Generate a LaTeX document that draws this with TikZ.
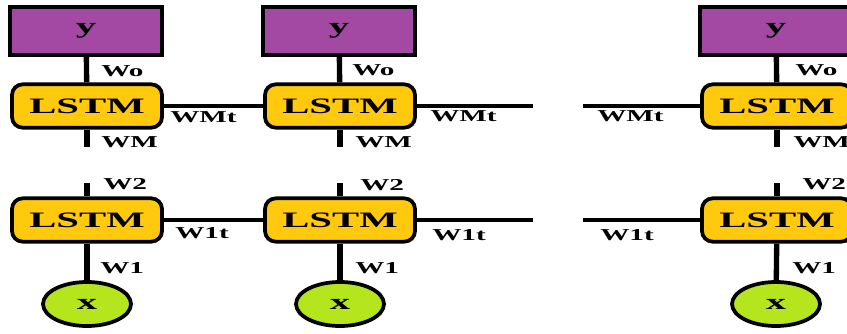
\documentclass[tikz,border=0pt]{standalone}
\usepackage{fontspec}
\usepackage{tikz}
\usetikzlibrary{shapes.geometric}
\setmainfont{Liberation Serif}
\newfontfamily\lblfont[FakeStretch=1.75]{Liberation Serif}
\newfontfamily\boxfont[FakeStretch=1.85]{Liberation Serif}
\definecolor{outpurple}{RGB}{163,73,164}
\definecolor{cellgold}{RGB}{255,201,14}
\definecolor{inlime}{RGB}{181,230,29}

\begin{document}
\begin{tikzpicture}[x=0.75pt,y=0.75pt,yscale=-1,xscale=1,
	outbox/.style={draw,line width=2.8pt,fill=outpurple,minimum width=114pt,minimum height=36pt,inner sep=0pt,font=\boxfont\bfseries\fontsize{16.5}{16.5}\selectfont},
	cellbox/.style={draw,line width=2.8pt,fill=cellgold,rounded corners=8pt,minimum width=112.5pt,minimum height=32.5pt,inner sep=0pt,font=\boxfont\bfseries\fontsize{16.5}{16.5}\selectfont},
	inblob/.style={draw,ellipse,line width=2.8pt,fill=inlime,minimum width=66pt,minimum height=33pt,inner sep=0pt,font=\boxfont\bfseries\fontsize{16.5}{16.5}\selectfont},
	lbl/.style={anchor=west,inner sep=0pt,font=\lblfont\bfseries\fontsize{12.5}{12.5}\selectfont},
	vwire/.style={line width=4pt},
	hwire/.style={line width=2.6pt}]
	\useasboundingbox (0,0) rectangle (847,333);
	\clip (0,0) rectangle (847,333);
	
	%Shape: Rectangle [outputs]
	\node [outbox] (y1) at (86,31) {y};
	\node [outbox] (y2) at (339,31) {y};
	\node [outbox] (y3) at (776,31) {y};
	%Shape: Rounded Rect [upper cells]
	\node [cellbox] (m1) at (87,106) {LSTM};
	\node [cellbox] (m2) at (340,106) {LSTM};
	\node [cellbox] (m3) at (777,106) {LSTM};
	%Shape: Rounded Rect [lower cells]
	\node [cellbox] (h1) at (87,220) {LSTM};
	\node [cellbox] (h2) at (340,220) {LSTM};
	\node [cellbox] (h3) at (777,220) {LSTM};
	%Shape: Ellipse [inputs]
	\node [inblob] (x1) at (87,304) {x};
	\node [inblob] (x2) at (340,304) {x};
	\node [inblob] (x3) at (776,304) {x};
	
	% free ends
	\coordinate (wm1) at (87,147);
	\coordinate (wm2) at (340,147);
	\coordinate (wm3) at (777,147);
	\coordinate (w21) at (87,183);
	\coordinate (w22) at (340,183);
	\coordinate (w23) at (777,183);
	\coordinate (mr) at (533,106);
	\coordinate (ml) at (583,106);
	\coordinate (hr) at (533,220);
	\coordinate (hl) at (583,220);
	
	%Straight Lines [vertical]
	\draw [vwire] (y1) -- (m1);
	\draw [vwire] (y2) -- (m2);
	\draw [vwire] (y3) -- (m3);
	\draw [vwire] (m1) -- (wm1);
	\draw [vwire] (m2) -- (wm2);
	\draw [vwire] (m3) -- (wm3);
	\draw [vwire] (w21) -- (h1);
	\draw [vwire] (w22) -- (h2);
	\draw [vwire] (w23) -- (h3);
	\draw [vwire] (h1) -- (x1);
	\draw [vwire] (h2) -- (x2);
	\draw [vwire] (h3) -- (x3);
	%Straight Lines [horizontal]
	\draw [hwire] (m1) -- (m2);
	\draw [hwire] (m2) -- (mr);
	\draw [hwire] (ml) -- (m3);
	\draw [hwire] (h1) -- (h2);
	\draw [hwire] (h2) -- (hr);
	\draw [hwire] (hl) -- (h3);
	
	% Text Node
	\node [lbl] (wo1) at (101,71) {Wo};
	\node [lbl] (wo2) at (352,70) {Wo};
	\node [lbl] (wo3) at (795,70) {Wo};
	% Text Node
	\node [lbl] (wmt1) at (170,117) {WMt};
	\node [lbl] (wmt2) at (430,116) {WMt};
	\node [lbl] (wmt3) at (597,116) {WMt};
	% Text Node
	\node [lbl] (wml1) at (101,142) {WM};
	\node [lbl] (wml2) at (355,142) {WM};
	\node [lbl] (wml3) at (793,142) {WM};
	% Text Node
	\node [lbl] (w2l1) at (103,184) {W2};
	\node [lbl] (w2l2) at (360,185) {W2};
	\node [lbl] (w2l3) at (802,184) {W2};
	% Text Node
	\node [lbl] (w1t1) at (175,233) {W1t};
	\node [lbl] (w1t2) at (432,235) {W1t};
	\node [lbl] (w1t3) at (600,235) {W1t};
	% Text Node
	\node [lbl] (w1l1) at (100,268) {W1};
	\node [lbl] (w1l2) at (355,268) {W1};
	\node [lbl] (w1l3) at (792,268) {W1};
\end{tikzpicture}
\end{document}
